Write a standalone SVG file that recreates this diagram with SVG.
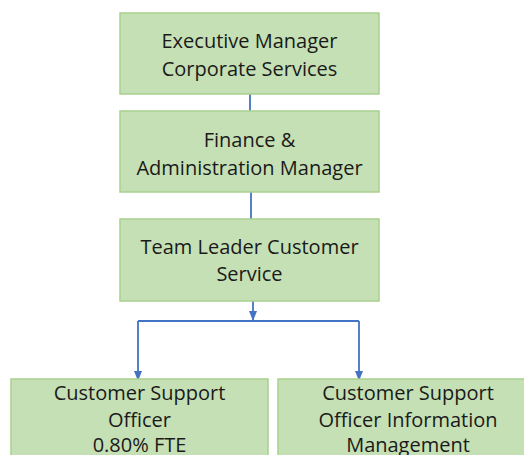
<svg xmlns="http://www.w3.org/2000/svg" width="524" height="455" viewBox="0 0 524 455">
<defs>
<marker id="ah" markerWidth="10" markerHeight="8" refX="9" refY="4" orient="auto" markerUnits="userSpaceOnUse">
<path d="M0,0 L10,4 L0,8 Z" fill="#4472c4"/>
</marker>
<style>
.box{fill:#c5e0b4;stroke:#a9d18e;stroke-width:1.5}
.t{font-family:"Open Sans","Liberation Sans",sans-serif;font-size:20px;fill:#1a1a1a;text-anchor:middle;dominant-baseline:central}
.c{fill:none;stroke:#4472c4;stroke-width:1.8}
</style>
</defs>
<rect width="524" height="455" fill="#ffffff"/>
<g id="connectors">
<line class="c" x1="250" y1="94" x2="250" y2="111"/>
<line class="c" x1="251" y1="192" x2="251" y2="219"/>
<line class="c" x1="253" y1="301" x2="253" y2="320" marker-end="url(#ah)"/>
<polyline class="c" points="138,321 359,321"/>
<line class="c" x1="138" y1="321" x2="138" y2="380" marker-end="url(#ah)"/>
<line class="c" x1="359" y1="321" x2="359" y2="380" marker-end="url(#ah)"/>
</g>
<g id="n1">
<rect class="box" x="120" y="13" width="259" height="81"/>
<text class="t" x="249.5" y="40">Executive Manager</text>
<text class="t" x="249.5" y="68">Corporate Services</text>
</g>
<g id="n2">
<rect class="box" x="120" y="111" width="259" height="81"/>
<text class="t" x="249.5" y="139">Finance &amp;</text>
<text class="t" x="249.5" y="167">Administration Manager</text>
</g>
<g id="n3">
<rect class="box" x="120" y="219" width="259" height="82"/>
<text class="t" x="249.5" y="246">Team Leader Customer</text>
<text class="t" x="249.5" y="273">Service</text>
</g>
<g id="n4">
<rect class="box" x="11" y="379" width="257" height="90"/>
<text class="t" x="139.5" y="392">Customer Support</text>
<text class="t" x="139.5" y="419">Officer</text>
<text class="t" x="139.5" y="444">0.80% FTE</text>
</g>
<g id="n5">
<rect class="box" x="278" y="379" width="260" height="90"/>
<text class="t" x="408" y="392">Customer Support</text>
<text class="t" x="408" y="419">Officer Information</text>
<text class="t" x="408" y="444">Management</text>
</g>
</svg>
